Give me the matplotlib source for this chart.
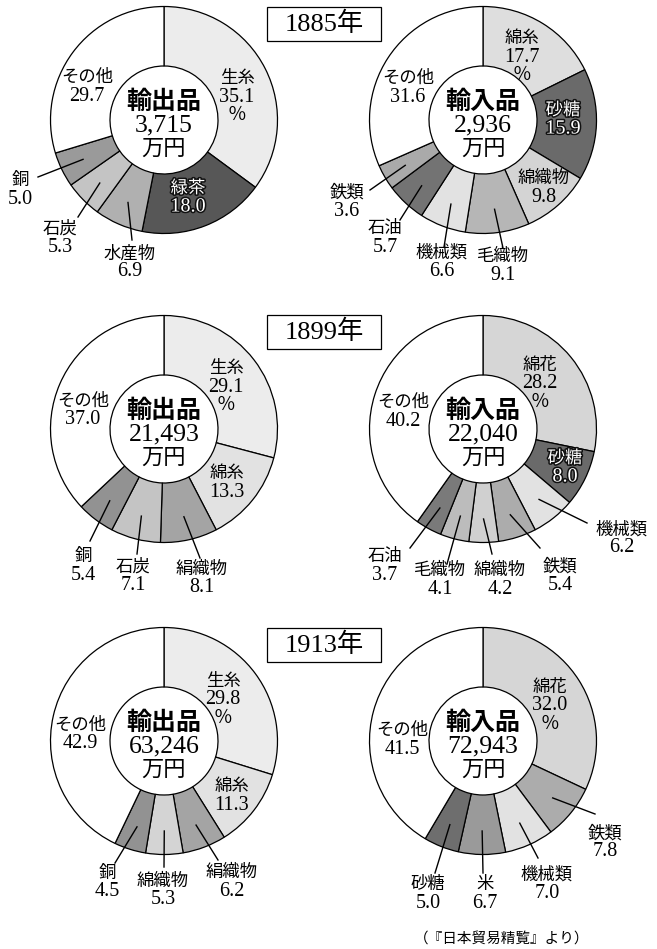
import matplotlib.pyplot as plt
import matplotlib.patheffects as pe
from matplotlib.patches import Rectangle
import numpy as np

W, H = 657, 949

# ---- data ----
years = ['1885年', '1899年', '1913年']
exp_totals = ['3,715', '21,493', '63,246']
imp_totals = ['2,936', '22,040', '72,943']

exp_1885_items = ['生糸', '緑茶', '水産物', '石炭', '銅', 'その他']
exp_1885_vals = [35.1, 18.0, 6.9, 5.3, 5.0, 29.7]
imp_1885_items = ['綿糸', '砂糖', '綿織物', '毛織物', '機械類', '石油', '鉄類', 'その他']
imp_1885_vals = [17.7, 15.9, 9.8, 9.1, 6.6, 5.7, 3.6, 31.6]

exp_1899_items = ['生糸', '綿糸', '絹織物', '石炭', '銅', 'その他']
exp_1899_vals = [29.1, 13.3, 8.1, 7.1, 5.4, 37.0]
imp_1899_items = ['綿花', '砂糖', '機械類', '鉄類', '綿織物', '毛織物', '石油', 'その他']
imp_1899_vals = [28.2, 8.0, 6.2, 5.4, 4.2, 4.1, 3.7, 40.2]

exp_1913_items = ['生糸', '綿糸', '絹織物', '綿織物', '銅', 'その他']
exp_1913_vals = [29.8, 11.3, 6.2, 5.3, 4.5, 42.9]
imp_1913_items = ['綿花', '鉄類', '機械類', '米', '砂糖', 'その他']
imp_1913_vals = [32.0, 7.8, 7.0, 6.7, 5.0, 41.5]

source = '（『日本貿易精覧』より）'

# ---- style / layout ----
FONT = ['Liberation Serif', 'Noto Sans CJK JP']
R, R_IN = 113.5, 54
LX, RX = 164, 483
ROWS_Y = [120, 429, 741]
BOX_Y = [7, 315, 628]
LINE = 18  # label line spacing in px

charts = [
    dict(items=exp_1885_items, vals=exp_1885_vals, cx=LX, row=0, kind='輸出品', total=exp_totals[0],
         colors=['#ececec', '#575757', '#b0b0b0', '#c4c4c4', '#9a9a9a', 'white'],
         text=[(73, -23), (24, 78), (-34, 143), (-104, 118), (-144, 70), (-77, -33)],
         lead=[None, None, (-32, 120), (-86, 97), (-126, 57), None], white=[1]),
    dict(items=imp_1885_items, vals=imp_1885_vals, cx=RX, row=0, kind='輸入品', total=imp_totals[0],
         colors=['#dedede', '#6a6a6a', '#d4d4d4', '#b6b6b6', '#e2e2e2', '#737373', '#aaaaaa', 'white'],
         text=[(39, -63), (80, 0), (61, 68), (20, 146), (-41, 142), (-98, 118), (-136, 82), (-75, -32)],
         lead=[None, None, None, (20, 128), (-39, 127), (-83, 100), (-113, 70), None], white=[1]),
    dict(items=exp_1899_items, vals=exp_1899_vals, cx=LX, row=1, kind='輸出品', total=exp_totals[1],
         colors=['#ececec', '#e2e2e2', '#a4a4a4', '#c4c4c4', '#929292', 'white'],
         text=[(62, -42), (63, 54), (38, 150), (-31, 147), (-81, 137), (-81, -18)],
         lead=[None, None, (36, 129), (-27, 125), (-74, 112), None], white=[]),
    dict(items=imp_1899_items, vals=imp_1899_vals, cx=RX, row=1, kind='輸入品', total=imp_totals[1],
         colors=['#d6d6d6', '#6a6a6a', '#e2e2e2', '#acacac', '#d0d0d0', '#bcbcbc', '#7a7a7a', 'white'],
         text=[(57, -45), (82, 39), (139, 110), (77, 147), (17, 151), (-43, 151), (-98, 137), (-80, -17)],
         lead=[None, None, (104, 94), (57, 119), (9, 125), (-36, 135), (-73, 119), None], white=[1]),
    dict(items=exp_1913_items, vals=exp_1913_vals, cx=LX, row=2, kind='輸出品', total=exp_totals[2],
         colors=['#ececec', '#e2e2e2', '#a4a4a4', '#d4d4d4', '#929292', 'white'],
         text=[(59, -41), (68, 55), (68, 141), (-1, 150), (-57, 142), (-84, -6)],
         lead=[None, None, (54, 119), (0, 126), (-49, 122), None], white=[]),
    dict(items=imp_1913_items, vals=imp_1913_vals, cx=RX, row=2, kind='輸入品', total=imp_totals[2],
         colors=['#d6d6d6', '#acacac', '#e2e2e2', '#9a9a9a', '#6e6e6e', 'white'],
         text=[(67, -35), (122, 102), (64, 143), (2, 153), (-55, 153), (-81, -1)],
         lead=[None, (112, 73), (55, 117), (0, 132), (-48, 132), None], white=[]),
]

fig = plt.figure(figsize=(W / 100, H / 100), dpi=100)
ax = fig.add_axes([0, 0, 1, 1])

for c in charts:
    cx, cy = c['cx'], ROWS_Y[c['row']]
    vals = np.array(c['vals'])
    ax.pie(vals, center=(cx, cy), radius=R, startangle=-90, counterclock=True,
           colors=c['colors'],
           wedgeprops=dict(width=R - R_IN, edgecolor='black', linewidth=0.9))
    # centre text
    ax.text(cx, cy - 18, c['kind'], ha='center', va='center', fontsize=18,
            fontweight='bold', family=FONT)
    ax.text(cx, cy + 5, c['total'], ha='center', va='center', fontsize=18.5, family=FONT)
    ax.text(cx, cy + 30, '万円', ha='center', va='center', fontsize=16, family=FONT)

    frac = vals / vals.sum()
    mids = (np.cumsum(frac) - frac / 2) * 2 * np.pi
    for i, (name, v) in enumerate(zip(c['items'], vals)):
        lines = [(name, 12.5), (f'{v:.1f}', 14.5)]
        if i == 0:
            lines.append(('％', 13.5))
        dx, dy = c['text'][i]
        top = cy + dy - LINE * (len(lines) - 1) / 2
        kw = dict(ha='center', va='center', family=FONT)
        if i in c['white']:
            kw['color'] = 'white'
            kw['path_effects'] = [pe.withStroke(linewidth=2.2, foreground='#111111')]
        for k, (s, fs) in enumerate(lines):
            ax.text(cx + dx, top + k * LINE, s, fontsize=fs, **kw)
        if c['lead'][i] is not None:
            x0 = cx + 90 * np.sin(mids[i])
            y0 = cy - 90 * np.cos(mids[i])
            ex, ey = c['lead'][i]
            ax.plot([x0, cx + ex], [y0, cy + ey], color='black', lw=1.0)

# year boxes
for y, by in zip(years, BOX_Y):
    ax.add_patch(Rectangle((267, by), 114, 34, fc='white', ec='black', lw=0.9))
    ax.text(324, by + 17, y, ha='center', va='center', fontsize=19, family=FONT)

ax.text(502, 940, source, ha='center', va='center', fontsize=10.5, family=FONT)

ax.set_xlim(0, W)
ax.set_ylim(H, 0)
ax.set_aspect('auto')
ax.axis('off')

fig.savefig('out.png', dpi=100, facecolor='white')
